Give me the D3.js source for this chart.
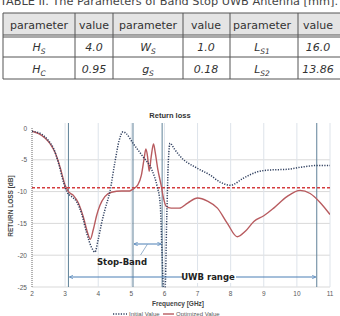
<!DOCTYPE html>
<html>
<head>
<meta charset="utf-8">
<script src="https://cdn.jsdelivr.net/npm/d3@7"></script>
<style>
  body { margin: 0; background: #fff; }
  svg { display: block; font-family: "DejaVu Sans", sans-serif; }
</style>
</head>
<body>
<svg id="chart" width="340" height="316"></svg>
<script>
// table contents
const tableHeader = ["parameter", "value", "parameter", "value", "parameter", "value"];
const tableRow1 = [["H", "S"], "4.0", ["W", "S"], "1.0", ["L", "S1"], "16.0"];
const tableRow2 = [["H", "C"], "0.95", ["g", "S"], "0.18", ["L", "S2"], "13.86"];

// chart data (frequency in GHz, return loss in dB)
const initFreq = [2.0, 2.3, 2.5, 2.65, 2.8, 2.95, 3.05, 3.2, 3.35, 3.5, 3.65, 3.8, 3.9, 4.0, 4.1, 4.2, 4.36, 4.5, 4.63, 4.75, 4.85, 5.05, 5.35, 5.62, 5.78, 5.87, 5.93, 5.97, 6.02, 6.07, 6.12, 6.17, 6.3, 6.5, 6.98, 7.38, 7.68, 8.0, 8.38, 8.8, 9.2, 9.7, 10.2, 10.6, 11.0];
const initLoss = [-0.5, -1.0, -2.0, -3.2, -5.5, -8.5, -10.0, -10.8, -11.6, -13.5, -16.5, -18.8, -19.5, -17.5, -15.0, -12.9, -9.8, -5.5, -2.0, -0.6, -0.9, -2.4, -4.5, -6.6, -9.2, -11.8, -20.0, -25.0, -25.0, -14.0, -5.0, -2.4, -3.3, -4.6, -6.3, -7.4, -8.5, -9.0, -7.9, -6.9, -6.6, -6.5, -6.1, -5.9, -5.9];

const optFreq = [2.0, 2.2, 2.4, 2.55, 2.7, 2.85, 3.0, 3.1, 3.25, 3.4, 3.55, 3.68, 3.76, 3.85, 3.95, 4.05, 4.2, 4.4, 4.7, 4.95, 5.05, 5.2, 5.3, 5.38, 5.44, 5.49, 5.54, 5.6, 5.67, 5.72, 5.8, 5.9, 5.97, 6.05, 6.2, 6.45, 6.7, 7.0, 7.3, 7.6, 7.9, 8.2, 8.45, 8.7, 9.0, 9.3, 9.7, 10.1, 10.4, 10.7, 11.0];
const optLoss = [-0.5, -0.9, -1.6, -2.5, -3.9, -6.2, -9.0, -10.0, -10.6, -11.8, -14.0, -16.5, -17.5, -16.0, -13.8, -12.2, -10.8, -10.1, -9.9, -9.9, -9.6, -8.9, -7.5, -5.0, -3.3, -4.5, -6.8, -4.5, -2.5, -3.8, -6.5, -9.0, -11.0, -12.3, -12.6, -12.6, -11.8, -11.0, -11.5, -12.6, -15.0, -17.1, -16.2, -14.7, -13.8, -12.6, -10.8, -9.8, -10.3, -11.7, -13.6];

const xTicks = [2, 3, 4, 5, 6, 7, 8, 9, 10, 11];
const yTicks = [0, -5, -10, -15, -20, -25];
const markerFreqs = [3.1, 5.05, 5.93, 10.6];
const thresholdDb = -9.4;
const stopBand = [5.05, 5.93];
const uwbBand = [3.1, 10.6];

const svg = d3.select("#chart");

// ---------- table ----------
svg.append("text")
    .attr("x", 0).attr("y", 5)
    .attr("font-size", 10.5)
    .attr("fill", "#444")
    .attr("textLength", 338)
    .attr("lengthAdjust", "spacingAndGlyphs")
    .text("TABLE II. The Parameters of Band Stop UWB Antenna [mm].");

const colEdges = [3, 75, 113, 183, 230, 298, 345];
const colCenters = [39, 94, 148, 206, 262, 318];
const rowLines = [13, 35, 57, 79];

svg.append("rect")
    .attr("x", colEdges[0]).attr("y", rowLines[0])
    .attr("width", colEdges[6] - colEdges[0]).attr("height", rowLines[1] - rowLines[0])
    .attr("fill", "#e4e4e4");

rowLines.forEach(y => {
    svg.append("line")
        .attr("x1", colEdges[0]).attr("x2", colEdges[6])
        .attr("y1", y).attr("y2", y)
        .attr("stroke", "#555").attr("stroke-width", 1);
});
// double line under header
svg.append("line")
    .attr("x1", colEdges[0]).attr("x2", colEdges[6])
    .attr("y1", 37).attr("y2", 37)
    .attr("stroke", "#555").attr("stroke-width", 1);

colEdges.slice(0, 6).forEach(x => {
    svg.append("line")
        .attr("x1", x).attr("x2", x)
        .attr("y1", rowLines[0]).attr("y2", rowLines[3])
        .attr("stroke", "#555").attr("stroke-width", 1);
});

tableHeader.forEach((t, i) => {
    svg.append("text")
        .attr("x", colCenters[i]).attr("y", 29)
        .attr("text-anchor", "middle")
        .attr("font-size", 11)
        .attr("fill", "#333")
        .text(t);
});

function drawRow(row, baseY) {
    row.forEach((cell, i) => {
        const t = svg.append("text")
            .attr("x", colCenters[i]).attr("y", baseY)
            .attr("text-anchor", "middle")
            .attr("font-size", 11)
            .attr("font-style", "italic")
            .attr("fill", "#333");
        if (Array.isArray(cell)) {
            t.append("tspan").text(cell[0]);
            t.append("tspan").attr("font-size", 7.5).attr("dy", 3).text(cell[1]);
        } else {
            t.text(cell);
        }
    });
}
drawRow(tableRow1, 51);
drawRow(tableRow2, 73);

// ---------- chart ----------
const x = d3.scaleLinear().domain([2, 11]).range([32, 330]);
const y = d3.scaleLinear().domain([-25, 0]).range([287, 128]);
const plotTop = 123;

const g = svg.append("g").attr("font-family", "'Liberation Sans', sans-serif");

// gridlines
g.selectAll(".hgrid")
    .data(yTicks.filter(d => d !== 0))
    .enter().append("line")
    .attr("x1", x(2)).attr("x2", x(11))
    .attr("y1", d => y(d)).attr("y2", d => y(d))
    .attr("stroke", "#d9d9d9").attr("stroke-width", 1);

g.selectAll(".vgrid")
    .data(xTicks.filter(d => d !== 2))
    .enter().append("line")
    .attr("x1", d => x(d)).attr("x2", d => x(d))
    .attr("y1", plotTop).attr("y2", y(-25))
    .attr("stroke", "#dde3ea").attr("stroke-width", 1);

// left axis line
g.append("line")
    .attr("x1", x(2)).attr("x2", x(2))
    .attr("y1", y(0)).attr("y2", y(-25))
    .attr("stroke", "#666").attr("stroke-width", 1)
    .attr("stroke-dasharray", "1,1");

// marker lines
g.selectAll(".mark")
    .data(markerFreqs)
    .enter().append("line")
    .attr("x1", d => x(d)).attr("x2", d => x(d))
    .attr("y1", plotTop).attr("y2", y(-25))
    .attr("stroke", "#5f8198").attr("stroke-width", 1);

// tick labels
g.selectAll(".xt")
    .data(xTicks)
    .enter().append("text")
    .attr("x", d => x(d)).attr("y", 296)
    .attr("text-anchor", "middle")
    .attr("font-size", 6.5).attr("fill", "#595959")
    .text(d => d);

g.selectAll(".yt")
    .data(yTicks)
    .enter().append("text")
    .attr("x", 27).attr("y", d => y(d) + 2.5)
    .attr("text-anchor", "end")
    .attr("font-size", 6.5).attr("fill", "#595959")
    .text(d => d);

// threshold
g.append("line")
    .attr("x1", x(2)).attr("x2", x(11))
    .attr("y1", y(thresholdDb)).attr("y2", y(thresholdDb))
    .attr("stroke", "#d43c3e").attr("stroke-width", 1.4)
    .attr("stroke-dasharray", "3,2");

svg.append("clipPath").attr("id", "plotclip")
    .append("rect").attr("x", x(2)).attr("y", plotTop)
    .attr("width", x(11) - x(2)).attr("height", y(-25) - plotTop + 1);

const line = d3.line()
    .x(d => x(d[0]))
    .y(d => y(d[1]))
    .curve(d3.curveMonotoneX);

const initData = initFreq.map((f, i) => [f, initLoss[i]]);
const optData = optFreq.map((f, i) => [f, optLoss[i]]);

g.append("path")
    .datum(optData)
    .attr("d", line)
    .attr("clip-path", "url(#plotclip)")
    .attr("fill", "none")
    .attr("stroke", "#b85b5f").attr("stroke-width", 1.4);

g.append("path")
    .datum(initData)
    .attr("d", line)
    .attr("clip-path", "url(#plotclip)")
    .attr("fill", "none")
    .attr("stroke", "#2f3f5f").attr("stroke-width", 1.5)
    .attr("stroke-dasharray", "1.2,1.4");

// arrows
const defs = svg.append("defs");
["start", "end"].forEach(k => {
    defs.append("marker")
        .attr("id", "arr-" + k)
        .attr("viewBox", "0 0 6 6")
        .attr("refX", k === "end" ? 6 : 0).attr("refY", 3)
        .attr("markerWidth", 4).attr("markerHeight", 4)
        .attr("orient", "auto")
        .append("path")
        .attr("d", k === "end" ? "M0,0L6,3L0,6" : "M6,0L0,3L6,6")
        .attr("fill", "none").attr("stroke", "#4a7eb5").attr("stroke-width", 1);
});

const stopY = 244;
g.append("line")
    .attr("x1", x(stopBand[0]) + 1).attr("x2", x(stopBand[1]) - 1)
    .attr("y1", stopY).attr("y2", stopY)
    .attr("stroke", "#4a7eb5").attr("stroke-width", 1)
    .attr("marker-start", "url(#arr-start)").attr("marker-end", "url(#arr-end)");

const stopMid = x((stopBand[0] + stopBand[1]) / 2);
g.append("line")
    .attr("x1", stopMid).attr("y1", stopY)
    .attr("x2", stopMid - 7).attr("y2", stopY + 11)
    .attr("stroke", "#7f9fbf").attr("stroke-width", 0.8);

g.append("text")
    .attr("x", 122).attr("y", 265)
    .attr("text-anchor", "middle")
    .attr("font-family", "'DejaVu Sans', sans-serif")
    .attr("font-size", 8.5).attr("font-weight", "bold").attr("fill", "#222")
    .text("Stop-Band");

const uwbY = 277;
g.append("line")
    .attr("x1", x(uwbBand[0]) + 1).attr("x2", x(uwbBand[1]) - 1)
    .attr("y1", uwbY).attr("y2", uwbY)
    .attr("stroke", "#4a7eb5").attr("stroke-width", 1)
    .attr("marker-start", "url(#arr-start)").attr("marker-end", "url(#arr-end)");

g.append("rect")
    .attr("x", 184).attr("y", uwbY - 6)
    .attr("width", 52).attr("height", 12)
    .attr("fill", "#fff");

g.append("text")
    .attr("x", 208).attr("y", uwbY + 3)
    .attr("text-anchor", "middle")
    .attr("font-family", "'DejaVu Sans', sans-serif")
    .attr("font-size", 8.5).attr("font-weight", "bold").attr("fill", "#222")
    .text("UWB range");

// titles
g.append("text")
    .attr("x", 170).attr("y", 118)
    .attr("text-anchor", "middle")
    .attr("font-size", 7.5).attr("font-weight", "bold").attr("fill", "#333")
    .text("Return loss");

g.append("text")
    .attr("x", 178).attr("y", 306)
    .attr("text-anchor", "middle")
    .attr("font-size", 6.5).attr("font-weight", "bold").attr("fill", "#444")
    .text("Frequency [GHz]");

g.append("text")
    .attr("transform", "translate(13,206) rotate(-90)")
    .attr("text-anchor", "middle")
    .attr("font-size", 6.5).attr("font-weight", "bold").attr("fill", "#444")
    .text("RETURN LOSS [dB]");

// legend
const legY = 314;
g.append("line")
    .attr("x1", 113).attr("x2", 127).attr("y1", legY).attr("y2", legY)
    .attr("stroke", "#2f3f5f").attr("stroke-width", 1.5)
    .attr("stroke-dasharray", "1.2,1.4");
g.append("text")
    .attr("x", 129).attr("y", legY + 2)
    .attr("font-size", 6).attr("fill", "#595959")
    .text("Initial Value");
g.append("line")
    .attr("x1", 163).attr("x2", 174).attr("y1", legY).attr("y2", legY)
    .attr("stroke", "#b85b5f").attr("stroke-width", 1.4);
g.append("text")
    .attr("x", 176).attr("y", legY + 2)
    .attr("font-size", 6).attr("fill", "#595959")
    .text("Optimized Value");
</script>
</body>
</html>
